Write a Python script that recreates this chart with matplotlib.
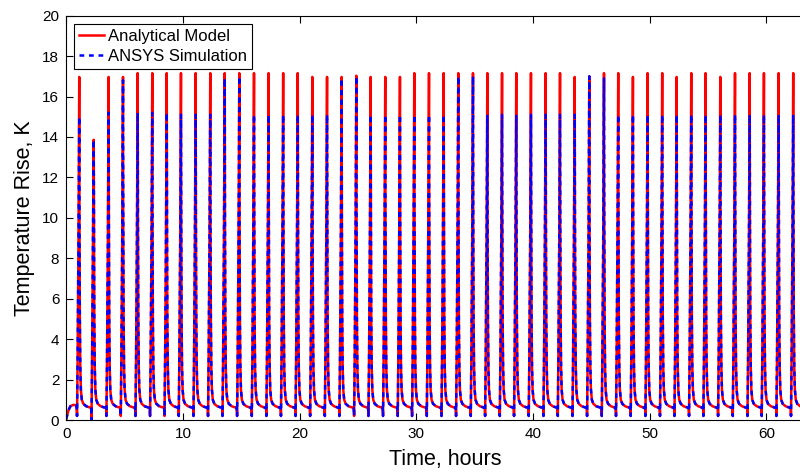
import matplotlib.pyplot as plt
import numpy as np

plt.rcParams['font.family'] = ['Liberation Sans', 'DejaVu Sans']

# time of each heating pulse peak, hours
pulse_t = [1.11, 2.35, 3.63, 4.86, 6.12, 7.37, 8.61, 9.83, 11.09, 12.34,
           13.58, 14.83, 16.09, 17.34, 18.59, 19.84, 21.09, 22.35, 23.60, 24.86,
           26.09, 27.34, 28.60, 29.83, 31.09, 32.35, 33.60, 34.86, 36.09, 37.35,
           38.57, 39.83, 41.09, 42.32, 43.58, 44.83, 46.09, 47.31, 48.57, 49.83,
           51.08, 52.32, 53.57, 54.80, 56.06, 57.32, 58.58, 59.80, 61.06, 62.31]

# peak temperature rise, K
peak_model = [16.97, 13.86, 16.97, 16.97, 17.16, 17.16, 17.16, 17.16, 17.16, 17.16,
              17.16, 17.16, 17.16, 17.16, 17.16, 17.16, 16.97, 16.97, 16.97, 17.03,
              16.97, 16.97, 16.97, 17.16, 17.16, 17.16, 17.16, 17.16, 17.16, 17.16,
              17.16, 17.16, 17.16, 17.16, 16.97, 17.00, 17.16, 17.16, 16.97, 17.16,
              17.16, 16.97, 17.16, 17.16, 16.97, 17.16, 17.16, 17.16, 17.16, 17.16]
peak_ansys = [15.0, 13.86, 15.2, 16.8, 15.2, 15.2, 15.2, 15.1, 15.1, 15.1,
              16.9, 17.0, 15.1, 15.1, 15.1, 15.1, 15.1, 15.1, 16.9, 17.0,
              15.1, 15.1, 15.1, 15.1, 15.1, 15.1, 17.0, 17.0, 15.1, 15.1,
              15.1, 15.1, 15.1, 15.1, 15.1, 17.0, 16.9, 15.1, 15.1, 15.1,
              15.1, 15.1, 15.1, 15.1, 15.1, 15.1, 15.1, 15.1, 15.1, 15.1]

# one heating cycle around its peak: offset from peak (h) and temperature rise (K);
# the peak entry (None) takes the pulse's own peak value
cycle_dt = [-0.22, -0.19, -0.14, -0.07, 0.0, 0.02, 0.05, 0.09, 0.14, 0.22, 0.35, 0.60, 0.90]
cycle_T = [0.62, 0.20, 3.0, 8.5, None, 10.0, 5.0, 2.6, 1.5, 1.0, 0.80, 0.68, 0.62]

# pre-pulse dip that reaches zero before the second pulse
dip_override = {1: 0.0}

# warm-up before the first pulse
start_t = [0.0, 0.1, 0.2, 0.35, 0.6, 0.85]
start_T = [0.05, 0.30, 0.50, 0.68, 0.75, 0.72]


def build_curve(peaks):
    t = list(start_t)
    T = list(start_T)
    for i, (tp, pk) in enumerate(zip(pulse_t, peaks)):
        for dt, v in zip(cycle_dt, cycle_T):
            if v is None:
                v = pk
            elif dt == -0.19 and i in dip_override:
                v = dip_override[i]
            t.append(tp + dt)
            T.append(v)
    return np.array(t), np.array(T)


t_model, T_model = build_curve(peak_model)
t_ansys, T_ansys = build_curve(peak_ansys)

# axes run to 65 h; the right end falls just past the figure edge
fig = plt.figure(figsize=(8, 4.73), dpi=100)
ax = fig.add_axes([66.3 / 800, 1 - 420 / 473, (824.6 - 66.3) / 800, (420 - 15.7) / 473])

ax.plot(t_model, T_model, color='red', lw=1.8, label='Analytical Model')
ax.plot(t_ansys, T_ansys, color='blue', lw=1.8, linestyle=(0, (1.9, 1.9)),
        label='ANSYS Simulation')

ax.set_xlim(0, 65)
ax.set_ylim(0, 20)
ax.set_xticks(np.arange(0, 61, 10))
ax.set_yticks(np.arange(0, 21, 2))
ax.tick_params(direction='in', top=True, right=True, length=5, width=0.8,
               labelsize=11, pad=5)
for s in ax.spines.values():
    s.set_linewidth(0.8)

ax.set_xlabel('Time, hours', fontsize=15.5, labelpad=6)
ax.set_ylabel('Temperature Rise, K', fontsize=15.5, labelpad=5)

leg = ax.legend(loc='upper left', bbox_to_anchor=(0.0102, 0.9795), borderaxespad=0,
                fontsize=12, fancybox=False, framealpha=1, edgecolor='black',
                borderpad=0.3, labelspacing=0.3, handlelength=1.5, handletextpad=0.25)
leg.get_frame().set_linewidth(0.8)

fig.savefig('out.png', dpi=100)
